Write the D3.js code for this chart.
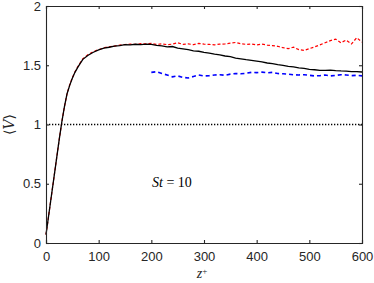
<!DOCTYPE html>
<html>
<head>
<meta charset="utf-8">
<script src="https://cdn.jsdelivr.net/npm/d3@7"></script>
<style>
  body { margin: 0; background: #fff; }
  svg { display: block; }
  .tick text { font-family: "Liberation Sans", Arial, sans-serif; font-size: 13px; fill: #262626; }
</style>
</head>
<body>
<div id="chart"></div>
<script>
// profil <V> terhadap z+ (St = 10)
const zEarly = [0, 5, 10, 15, 20, 25, 30, 35, 40, 45, 50, 55, 60, 65, 70, 80, 90];
const zStep = d3.range(100, 601, 10);
const zBlack = zEarly.concat(zStep);
const vBlack = [0.07, 0.23, 0.39, 0.55, 0.71, 0.87, 1.02, 1.15, 1.26, 1.33, 1.39, 1.44, 1.48, 1.515, 1.55, 1.585, 1.61,
  1.63, 1.645, 1.652, 1.662, 1.666, 1.674, 1.672, 1.677, 1.674, 1.679, 1.676,
  1.668, 1.664, 1.655, 1.658, 1.645, 1.638, 1.631, 1.622, 1.618, 1.608,
  1.603, 1.594, 1.587, 1.578, 1.572, 1.56, 1.554, 1.547, 1.541, 1.535,
  1.528, 1.519, 1.514, 1.505, 1.499, 1.49, 1.486, 1.478, 1.473, 1.465,
  1.462, 1.457, 1.456, 1.459, 1.454, 1.452, 1.451, 1.447, 1.447, 1.443];

const zRed = zBlack;
const vRed = [0.07, 0.23, 0.39, 0.55, 0.71, 0.87, 1.02, 1.15, 1.26, 1.335, 1.395, 1.445, 1.485, 1.52, 1.555, 1.59, 1.615,
  1.632, 1.648, 1.656, 1.662, 1.67, 1.675, 1.678, 1.676, 1.682, 1.68, 1.684,
  1.676, 1.68, 1.674, 1.678, 1.69, 1.676, 1.68, 1.674, 1.684, 1.678,
  1.676, 1.672, 1.678, 1.68, 1.686, 1.692, 1.682, 1.676, 1.68, 1.672,
  1.678, 1.67, 1.666, 1.66, 1.648, 1.64, 1.652, 1.632, 1.625, 1.64,
  1.655, 1.672, 1.69, 1.708, 1.72, 1.69, 1.712, 1.68, 1.732, 1.695];

const zBlue = d3.range(200, 601, 10);
const vBlue = [1.44, 1.445, 1.43, 1.418, 1.402, 1.41, 1.398, 1.393, 1.405, 1.418, 1.41,
  1.412, 1.418, 1.42, 1.415, 1.425, 1.43, 1.428, 1.432, 1.44, 1.438,
  1.442, 1.436, 1.44, 1.43, 1.428, 1.425, 1.42, 1.418, 1.42, 1.415,
  1.41, 1.412, 1.418, 1.41, 1.415, 1.42, 1.418, 1.412, 1.415, 1.41];

const xTicks = [0, 100, 200, 300, 400, 500, 600];
const yTicks = [0, 0.5, 1, 1.5, 2];

const W = 374, H = 283;
const m = { t: 6, r: 12, b: 40, l: 46 };
const ink = "#262626";

const svg = d3.select("#chart").append("svg").attr("width", W).attr("height", H);
const x = d3.scaleLinear().domain([0, 600]).range([m.l, W - m.r]);
const y = d3.scaleLinear().domain([0, 2]).range([H - m.b, m.t]);

// garis referensi <V> = 1
svg.append("line")
  .attr("x1", x(0)).attr("x2", x(600)).attr("y1", y(1)).attr("y2", y(1))
  .attr("stroke", "#000").attr("stroke-width", 1.3).attr("stroke-dasharray", "1.3,1.7");

const line = d3.line().x(d => x(d[0])).y(d => y(d[1]));
const pairs = (zs, vs) => zs.map((z, i) => [z, vs[i]]);

svg.append("path").datum(pairs(zBlue, vBlue))
  .attr("d", line).attr("fill", "none")
  .attr("stroke", "#0000ff").attr("stroke-width", 1.6).attr("stroke-dasharray", "4,3");
svg.append("path").datum(pairs(zRed, vRed))
  .attr("d", line).attr("fill", "none")
  .attr("stroke", "#ff0000").attr("stroke-width", 1.2).attr("stroke-dasharray", "3,2");
svg.append("path").datum(pairs(zBlack, vBlack))
  .attr("d", line).attr("fill", "none")
  .attr("stroke", "#000").attr("stroke-width", 1.3);

// sumbu (gaya kotak, tick ke dalam)
const gx = svg.append("g").attr("transform", `translate(0,${y(0)})`)
  .call(d3.axisBottom(x).tickValues(xTicks).tickSize(-3).tickPadding(9));
const gxTop = svg.append("g").attr("transform", `translate(0,${y(2)})`)
  .call(d3.axisTop(x).tickValues(xTicks).tickSize(-3).tickFormat(""));
const gy = svg.append("g").attr("transform", `translate(${x(0)},0)`)
  .call(d3.axisLeft(y).tickValues(yTicks).tickSize(-3).tickPadding(5).tickFormat(d3.format("")));
const gyR = svg.append("g").attr("transform", `translate(${x(600)},0)`)
  .call(d3.axisRight(y).tickValues(yTicks).tickSize(-3).tickFormat(""));
[gx, gxTop, gy, gyR].forEach(g => {
  g.select(".domain").attr("stroke", ink).attr("stroke-width", 1.1);
  g.selectAll(".tick line").attr("stroke", ink).attr("stroke-width", 1.1);
});

// label sumbu
svg.append("text")
  .attr("transform", `translate(14,${y(1)}) rotate(-90)`)
  .attr("text-anchor", "middle")
  .style("font-family", "'DejaVu Serif', serif").style("font-size", "14px").style("fill", ink)
  .html('⟨<tspan font-style="italic">V</tspan>⟩');

const zl = svg.append("text")
  .attr("x", x(300) - 2).attr("y", 278)
  .attr("text-anchor", "middle")
  .style("font-family", "'Liberation Serif', serif").style("font-size", "14px").style("fill", ink);
zl.append("tspan").style("font-style", "italic").text("z");
zl.append("tspan").attr("dy", -4).style("font-size", "9px").text("+");

const st = svg.append("text")
  .attr("x", 152).attr("y", 187)
  .style("font-family", "'Liberation Serif', serif").style("font-size", "14px").style("fill", "#000");
st.append("tspan").style("font-style", "italic").text("St");
st.append("tspan").text(" = 10");
</script>
</body>
</html>
